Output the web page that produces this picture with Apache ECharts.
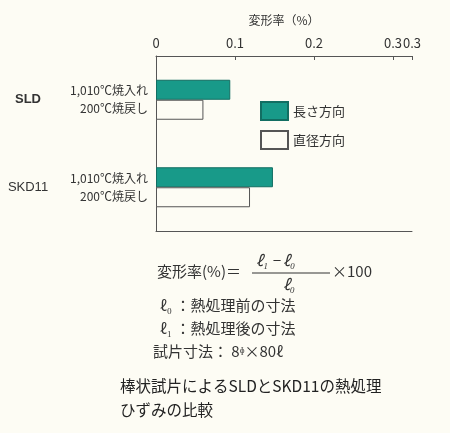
<!doctype html>
<html>
<head>
<meta charset="utf-8">
<script src="https://cdn.jsdelivr.net/npm/echarts@6/dist/echarts.min.js"></script>
<style>body{margin:0;background:#fdfcf4;}</style>
</head>
<body>
<div id="chart" style="width:450px;height:433px;"></div>
<script>
var steels = ['SLD', 'SKD11'];
var treatments = ['1,010℃焼入れ\n200℃焼戻し', '1,010℃焼入れ\n200℃焼戻し'];
var lengthDir = [0.094, 0.148];
var diameterDir = [0.060, 0.119];
var xTicks = [0, 0.1, 0.2, 0.3];

var serif = '"Noto Sans CJK JP", serif';
var ink = '#333';
var chart = echarts.init(document.getElementById('chart'));
chart.setOption({
  backgroundColor: '#fdfcf4',
  textStyle: {fontFamily: '"Noto Sans CJK JP"', color: ink},
  grid: {left: 156, right: 38, top: 56, bottom: 202},
  legend: {
    orient: 'vertical', left: 255, top: 96, itemWidth: 27, itemHeight: 18, itemGap: 9,
    icon: 'rect',
    textStyle: {fontSize: 13, color: ink},
    data: ['長さ方向', '直径方向']
  },
  xAxis: [{
    type: 'value', position: 'top', min: 0, max: 0.324, interval: 0.1,
    name: '変形率（%）', nameLocation: 'middle', nameGap: 30,
    nameTextStyle: {fontSize: 12, color: ink},
    axisLine: {show: true, lineStyle: {color: '#555'}},
    axisTick: {show: true, inside: true, length: 4, lineStyle: {color: '#555'}},
    axisLabel: {fontSize: 13, color: ink, margin: 6,
      formatter: function (v) { var r = Math.round(v * 10) / 10; return xTicks.indexOf(r) >= 0 ? String(r) : ''; }},
    splitLine: {show: false}
  }, {
    type: 'value', position: 'bottom', min: 0, max: 0.324,
    axisLine: {show: true, lineStyle: {color: '#555'}},
    axisTick: {show: false}, axisLabel: {show: false}, splitLine: {show: false}
  }],
  yAxis: [{
    type: 'category', inverse: true, data: treatments,
    axisLine: {show: true, lineStyle: {color: '#555'}},
    axisTick: {show: false},
    axisLabel: {fontSize: 12, color: ink, margin: 8, align: 'right', lineHeight: 18}
  }, {
    type: 'category', inverse: true, data: steels, position: 'left', offset: 120,
    axisLine: {show: false}, axisTick: {show: false},
    axisLabel: {fontSize: 13, color: '#222', margin: 8, align: 'center',
      formatter: function (v) { return v === 'SLD' ? '{b|SLD}' : '{n|SKD11}'; },
      rich: {b: {fontWeight: 'bold', fontSize: 13, fontFamily: 'Liberation Sans'},
             n: {fontWeight: 'normal', fontSize: 13, fontFamily: 'Liberation Sans'}}}
  }],
  series: [{
    name: '長さ方向', type: 'bar', data: lengthDir, barWidth: 20, barGap: '0%',
    itemStyle: {color: '#189a89', borderColor: '#126e62', borderWidth: 1}
  }, {
    name: '直径方向', type: 'bar', data: diameterDir, barWidth: 20,
    itemStyle: {color: '#fdfcf4', borderColor: '#555', borderWidth: 1}
  }],
  graphic: [
    {type: 'text', left: 157, top: 264, style: {text: '変形率(%)＝', font: '15px ' + serif, fill: ink}},
    {type: 'text', left: 256, top: 253, style: {text: 'ℓ₁ − ℓ₀', font: 'italic 15px ' + serif, fill: ink}},
    {type: 'line', shape: {x1: 252, y1: 273, x2: 330, y2: 273}, style: {stroke: ink, lineWidth: 1}},
    {type: 'text', left: 283, top: 277, style: {text: 'ℓ₀', font: 'italic 15px ' + serif, fill: ink}},
    {type: 'text', left: 332, top: 264, style: {text: '×100', font: '15px ' + serif, fill: ink}},
    {type: 'text', left: 160, top: 298, style: {text: 'ℓ₀ ：熱処理前の寸法', font: '15px ' + serif, fill: ink}},
    {type: 'text', left: 160, top: 321, style: {text: 'ℓ₁ ：熱処理後の寸法', font: '15px ' + serif, fill: ink}},
    {type: 'text', left: 153, top: 344, style: {text: '試片寸法： 8ᶲ×80ℓ', font: '15px ' + serif, fill: ink}},
    {type: 'text', left: 120, top: 378, style: {text: '棒状試片によるSLDとSKD11の熱処理', font: '15.5px "Noto Sans CJK JP"', fill: '#222'}},
    {type: 'text', left: 120, top: 402, style: {text: 'ひずみの比較', font: '15.5px "Noto Sans CJK JP"', fill: '#222'}}
  ]
});
</script>
</body>
</html>
